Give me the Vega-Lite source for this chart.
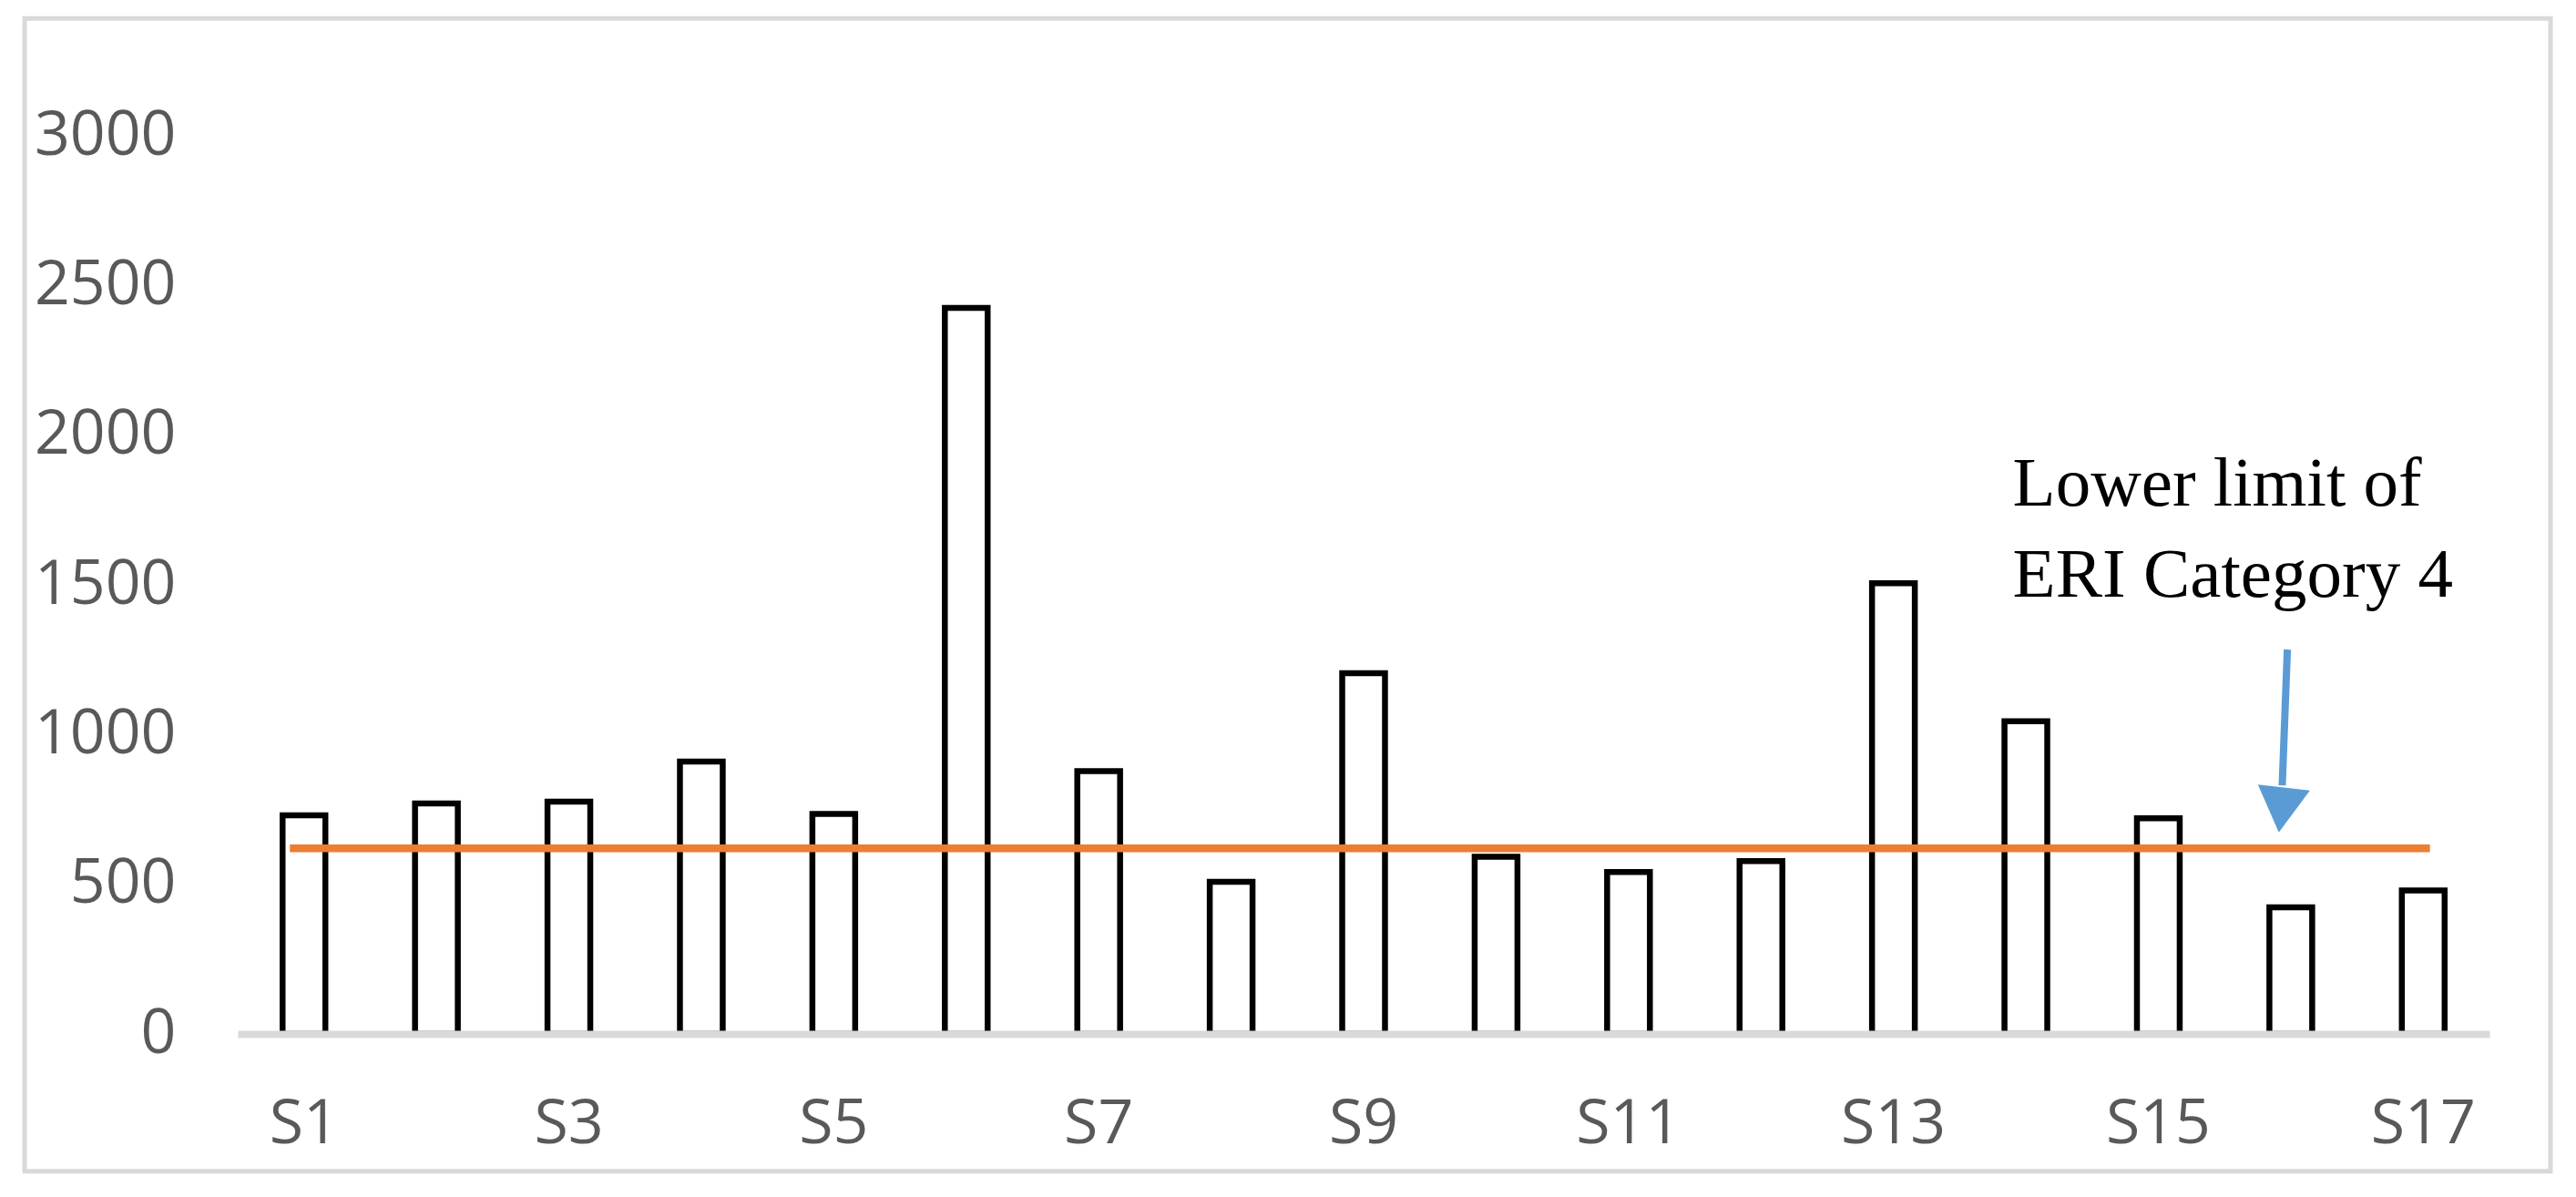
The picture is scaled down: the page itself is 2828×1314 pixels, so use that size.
{
  "$schema": "https://vega.github.io/schema/vega-lite/v6.json",
  "autosize": {"type": "none"},
  "width": 2472,
  "height": 986,
  "padding": {"left": 261, "top": 149, "right": 95, "bottom": 179},
  "background": "white",
  "config": {"view": {"stroke": null}},
  "resolve": {"scale": {"x": "independent"}},
  "layer": [
    {
      "layer": [
        {
          "data": {
            "values": [
              {"site": "S1", "value": 730},
              {"site": "S2", "value": 770},
              {"site": "S3", "value": 776},
              {"site": "S4", "value": 910},
              {"site": "S5", "value": 735},
              {"site": "S6", "value": 2425},
              {"site": "S7", "value": 878},
              {"site": "S8", "value": 508},
              {"site": "S9", "value": 1205},
              {"site": "S10", "value": 592},
              {"site": "S11", "value": 541},
              {"site": "S12", "value": 577},
              {"site": "S13", "value": 1505},
              {"site": "S14", "value": 1044},
              {"site": "S15", "value": 720},
              {"site": "S16", "value": 423},
              {"site": "S17", "value": 479}
            ]
          },
          "mark": {"type": "bar", "fill": "white", "stroke": "black", "strokeWidth": 6.5},
          "encoding": {
            "x": {
              "field": "site",
              "type": "nominal",
              "scale": {
                "domain": ["S1", "S2", "S3", "S4", "S5", "S6", "S7", "S8", "S9", "S10", "S11", "S12", "S13", "S14", "S15", "S16", "S17"],
                "paddingInner": 0.677,
                "paddingOuter": 0.3385
              },
              "axis": {
                "title": null,
                "values": ["S1", "S3", "S5", "S7", "S9", "S11", "S13", "S15", "S17"],
                "labelAngle": 0,
                "labelFont": "Open Sans",
                "labelFontSize": 68,
                "labelColor": "#595959",
                "labelPadding": 65,
                "ticks": false,
                "tickSize": 0,
                "grid": false,
                "domainColor": "#D9D9D9",
                "domainWidth": 8,
                "zindex": 1
              }
            },
            "y": {
              "field": "value",
              "type": "quantitative",
              "scale": {"domain": [0, 3000], "nice": false},
              "axis": {
                "title": null,
                "values": [0, 500, 1000, 1500, 2000, 2500, 3000],
                "format": "d",
                "labelFont": "Open Sans",
                "labelFontSize": 68,
                "labelColor": "#595959",
                "labelPadding": 68,
                "ticks": false,
                "tickSize": 0,
                "domain": false,
                "grid": false
              }
            }
          }
        },
        {
          "data": {"values": [{"from": "S1", "to": "S17", "limit": 620}]},
          "mark": {"type": "rule", "color": "#ED7D31", "strokeWidth": 8.5},
          "encoding": {
            "x": {"field": "from", "type": "nominal", "bandPosition": 0.17},
            "x2": {"field": "to", "bandPosition": 0.656},
            "y": {"field": "limit", "type": "quantitative"}
          }
        },
        {
          "data": {"values": [{"site": "S14", "value": 1765, "label": "Lower limit of|ERI Category 4"}]},
          "mark": {
            "type": "text",
            "align": "left",
            "baseline": "alphabetic",
            "font": "Liberation Serif",
            "fontSize": 77,
            "lineHeight": 100,
            "lineBreak": "|",
            "color": "black",
            "dx": -6
          },
          "encoding": {
            "x": {"field": "site", "type": "nominal", "bandPosition": 0.32},
            "y": {"field": "value", "type": "quantitative"},
            "text": {"field": "label"}
          }
        },
        {
          "data": {"values": [{"site": "S16", "start": 1284, "end": 830}]},
          "mark": {"type": "rule", "color": "#5B9BD5", "strokeWidth": 8},
          "encoding": {
            "x": {"field": "site", "type": "nominal", "bandPosition": 0.42},
            "x2": {"field": "site", "bandPosition": 0.30},
            "y": {"field": "start", "type": "quantitative"},
            "y2": {"field": "end"}
          }
        },
        {
          "data": {"values": [{"site": "S16", "value": 748}]},
          "mark": {"type": "point", "shape": "triangle-down", "filled": true, "color": "#5B9BD5", "opacity": 1, "size": 3300, "angle": 6.5},
          "encoding": {
            "x": {"field": "site", "type": "nominal", "bandPosition": 0.28},
            "y": {"field": "value", "type": "quantitative"}
          }
        }
      ]
    },
    {
      "data": {"values": [{"left": -1.609, "right": 17.461, "bottom": -459, "top": 3392}]},
      "mark": {"type": "rect", "fill": null, "stroke": "#D9D9D9", "strokeWidth": 5},
      "encoding": {
        "x": {"field": "left", "type": "quantitative", "scale": {"domain": [0, 17], "nice": false, "zero": false}, "axis": null},
        "x2": {"field": "right"},
        "y": {"field": "bottom", "type": "quantitative"},
        "y2": {"field": "top"}
      }
    }
  ]
}
